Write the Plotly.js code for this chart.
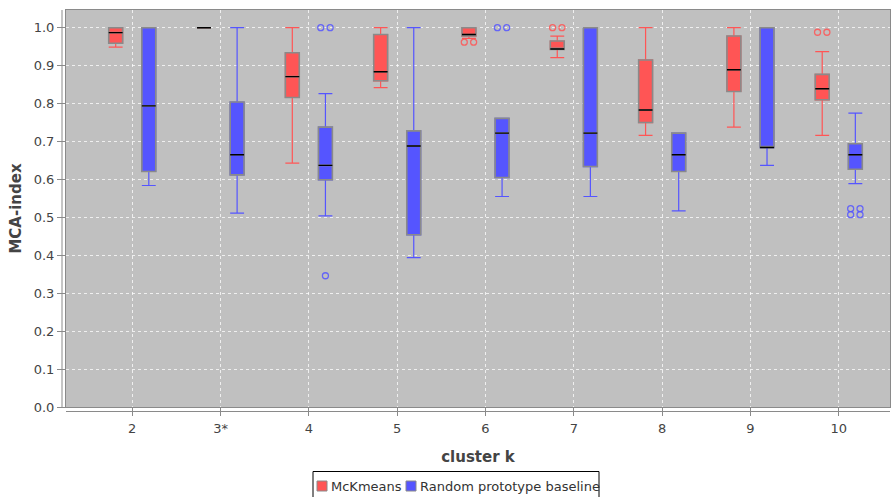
<!DOCTYPE html>
<html>
<head>
<meta charset="utf-8">
<script src="https://cdn.plot.ly/plotly-3.0.1.min.js"></script>
<style>html,body{margin:0;padding:0;background:#fff;}#chart{width:893px;height:497px;}</style>
</head>
<body>
<div id="chart"></div>
<script>
// Categories (cluster k)
var categories = ["2", "3*", "4", "5", "6", "7", "8", "9", "10"];

// McKmeans box statistics
var mckLower  = [0.949, 1.000, 0.643, 0.842, 0.972, 0.921, 0.716, 0.738, 0.716];
var mckQ1     = [0.959, 1.000, 0.816, 0.860, 0.978, 0.943, 0.750, 0.832, 0.810];
var mckMedian = [0.987, 1.000, 0.871, 0.884, 0.982, 0.944, 0.783, 0.889, 0.839];
var mckQ3     = [1.000, 1.000, 0.934, 0.982, 1.000, 0.965, 0.915, 0.978, 0.877];
var mckUpper  = [1.000, 1.000, 1.000, 1.000, 1.000, 0.978, 1.000, 1.000, 0.937];
// outliers (repeated values = several overlapping outliers)
var mckOutliers = [[], [], [], [], [0.962, 0.962], [1.000, 1.000], [], [], [0.988, 0.988]];

// Random prototype baseline box statistics
var rndLower  = [0.584, 0.511, 0.504, 0.394, 0.555, 0.555, 0.517, 0.637, 0.589];
var rndQ1     = [0.621, 0.612, 0.599, 0.454, 0.605, 0.634, 0.621, 0.684, 0.627];
var rndMedian = [0.794, 0.665, 0.637, 0.688, 0.722, 0.722, 0.665, 0.684, 0.665];
var rndQ3     = [1.000, 0.804, 0.738, 0.728, 0.761, 1.000, 0.722, 1.000, 0.694];
var rndUpper  = [1.000, 1.000, 0.826, 1.000, 0.761, 1.000, 0.722, 1.000, 0.775];
var rndOutliers = [[], [], [1.000, 1.000, 0.346], [], [1.000, 1.000], [], [], [], [0.523, 0.523, 0.507, 0.507]];

var seriesNames = ["McKmeans", "Random prototype baseline"];
var seriesColors = ["#ff5555", "#5555ff"];

var BOXGAP = 0.25, BOXGROUPGAP = 0.58, XRANGE = [-0.75, 8.58];

function makeTraces(name, color, lower, q1, med, q3, upper, group) {
  var common = {
    type: "box", orientation: "v", x: categories, offsetgroup: group, alignmentgroup: "all",
    hoverinfo: "skip", showlegend: false, name: name, boxpoints: false, whiskerwidth: 1
  };
  var whisk = Object.assign({}, common, {
    q1: q1, median: med, q3: q3, lowerfence: lower, upperfence: upper,
    line: {color: color, width: 1.2}, fillcolor: color
  });
  var body = Object.assign({}, common, {
    q1: q1, median: med, q3: q3, lowerfence: q1, upperfence: q3,
    line: {color: "#8a8a8a", width: 1.6}, fillcolor: color
  });
  var median = Object.assign({}, common, {
    q1: med, median: med, q3: med, lowerfence: med, upperfence: med,
    line: {color: "#000000", width: 1.4}, fillcolor: "rgba(0,0,0,0)"
  });
  return [whisk, body, median];
}

// outliers drawn on an overlaid numeric axis with same range as the category axis
function outlierTrace(color, outl, sIndex) {
  var slot = (1 - BOXGAP) / 2;
  var off = (sIndex - 0.5) * slot;
  var pairHalf = 0.053;
  var xs = [], ys = [];
  outl.forEach(function (vals, i) {
    var counts = {};
    vals.forEach(function (v) { counts[v] = (counts[v] || 0) + 1; });
    Object.keys(counts).forEach(function (k) {
      var v = parseFloat(k);
      if (counts[k] > 1) {
        xs.push(i + off - pairHalf, i + off + pairHalf); ys.push(v, v);
      } else {
        xs.push(i + off); ys.push(v);
      }
    });
  });
  return {
    type: "scatter", mode: "markers", x: xs, y: ys, xaxis: "x2", yaxis: "y",
    showlegend: false, hoverinfo: "skip",
    marker: {symbol: "circle-open", size: 6, color: color, opacity: 0.85, line: {width: 1.3, color: color}}
  };
}

var data = [].concat(
  makeTraces(seriesNames[0], seriesColors[0], mckLower, mckQ1, mckMedian, mckQ3, mckUpper, "a"),
  makeTraces(seriesNames[1], seriesColors[1], rndLower, rndQ1, rndMedian, rndQ3, rndUpper, "b"),
  [outlierTrace(seriesColors[0], mckOutliers, 0), outlierTrace(seriesColors[1], rndOutliers, 1)]
);

// plot area in pixels: x 66..890, y 10..407
var W = 893, H = 497, L = 66, R = 3, T = 10, B = 90;
var pw = W - L - R, ph = H - T - B;
function px(x) { return (x - L) / pw; }
function py(y) { return (H - B - y) / ph; }

var fontFam = "DejaVu Sans, sans-serif";
var tickFont = {family: fontFam, size: 13, color: "#444444"};

// JFreeChart-like legend
var legShapes = [
  {type: "rect", xref: "paper", yref: "paper", x0: px(313), x1: px(599), y0: py(498), y1: py(471.5),
   line: {color: "#000000", width: 1}, fillcolor: "#ffffff"},
  {type: "rect", xref: "paper", yref: "paper", x0: px(317), x1: px(327), y0: py(491), y1: py(481),
   line: {color: "#8a8a8a", width: 1}, fillcolor: seriesColors[0]},
  {type: "rect", xref: "paper", yref: "paper", x0: px(406), x1: px(416), y0: py(491), y1: py(481),
   line: {color: "#8a8a8a", width: 1}, fillcolor: seriesColors[1]}
];
var legAnn = [
  {xref: "paper", yref: "paper", x: px(329), y: py(486), xanchor: "left", yanchor: "middle", showarrow: false,
   text: seriesNames[0], font: {family: fontFam, size: 13, color: "#333333"}},
  {xref: "paper", yref: "paper", x: px(418), y: py(486), xanchor: "left", yanchor: "middle", showarrow: false,
   text: seriesNames[1], font: {family: fontFam, size: 13, color: "#333333"}}
];

var layout = {
  width: W, height: H,
  margin: {l: L, r: R, t: T, b: B},
  paper_bgcolor: "#ffffff",
  plot_bgcolor: "#c0c0c0",
  boxmode: "group",
  boxgap: BOXGAP,
  boxgroupgap: BOXGROUPGAP,
  showlegend: false,
  xaxis: {
    type: "category",
    range: XRANGE,
    showgrid: true, gridcolor: "rgba(255,255,255,0.75)", griddash: "dot", gridwidth: 1,
    showline: true, linecolor: "#8a8a8a", linewidth: 1, mirror: true,
    ticks: "outside", ticklen: 8, tickcolor: "#8a8a8a",
    tickfont: tickFont, ticklabelstandoff: 1,
    zeroline: false,
    title: {text: "cluster k", font: {family: fontFam, size: 15, color: "#444444", weight: "bold"}, standoff: 16}
  },
  xaxis2: {
    overlaying: "x", range: XRANGE, visible: false, showgrid: false, zeroline: false
  },
  yaxis: {
    range: [0, 1.0467],
    tickvals: [0, 0.1, 0.2, 0.3, 0.4, 0.5, 0.6, 0.7, 0.8, 0.9, 1.0],
    ticktext: ["0.0", "0.1", "0.2", "0.3", "0.4", "0.5", "0.6", "0.7", "0.8", "0.9", "1.0"],
    showgrid: true, gridcolor: "rgba(255,255,255,0.75)", griddash: "dot", gridwidth: 1,
    showline: true, linecolor: "#8a8a8a", linewidth: 1, mirror: true,
    ticks: "outside", ticklen: 8, tickcolor: "#8a8a8a",
    tickfont: tickFont,
    zeroline: false,
    title: {text: "MCA-index", font: {family: fontFam, size: 15, color: "#444444", weight: "bold"}, standoff: 8}
  },
  shapes: [
    {type: "line", xref: "paper", yref: "paper", x0: px(62), x1: px(62), y0: 0, y1: 1, line: {color: "#8a8a8a", width: 1}},
    {type: "line", xref: "paper", yref: "paper", x0: 0, x1: 1, y0: py(411.5), y1: py(411.5), line: {color: "#8a8a8a", width: 1}}
  ].concat(legShapes),
  annotations: legAnn
};

Plotly.newPlot("chart", data, layout, {displayModeBar: false, staticPlot: true});
</script>
</body>
</html>
